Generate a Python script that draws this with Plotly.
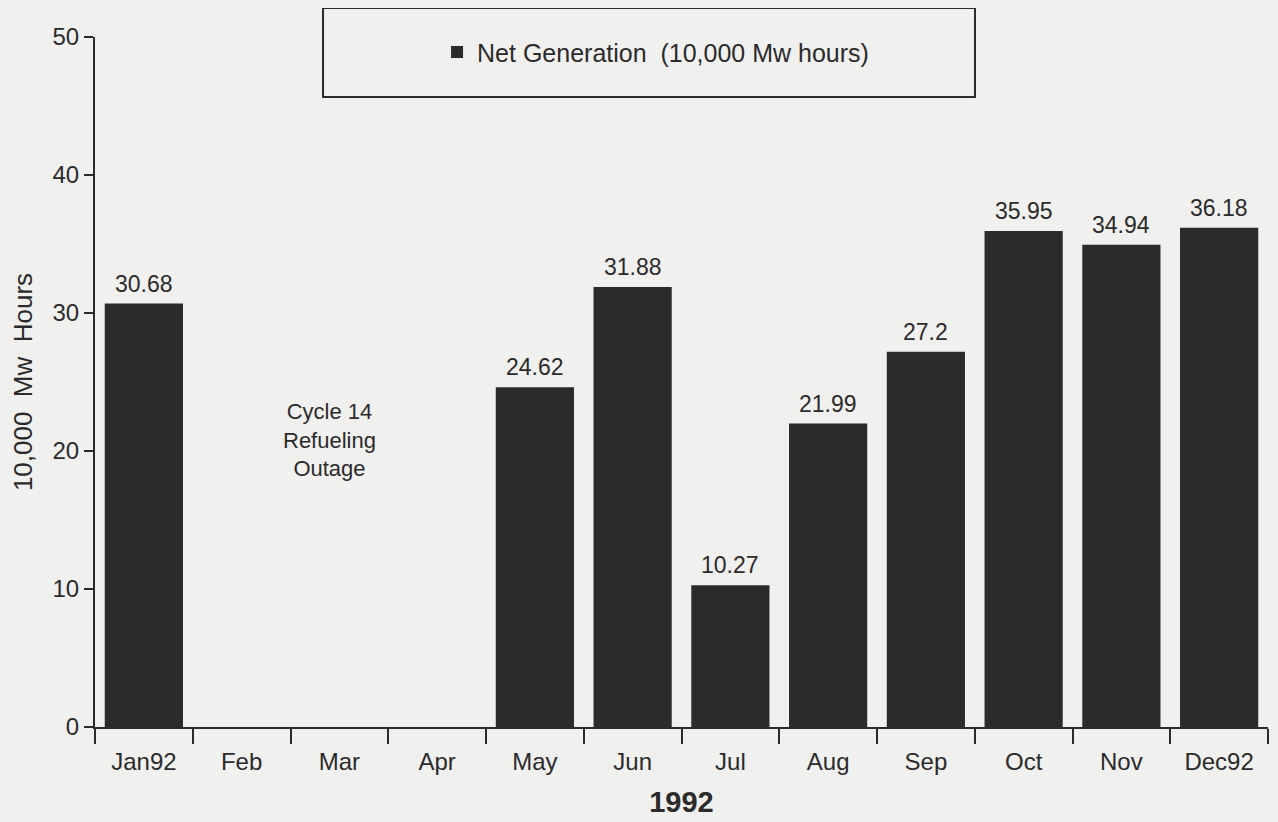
import plotly.graph_objects as go

months = ["Jan92", "Feb", "Mar", "Apr", "May", "Jun", "Jul", "Aug", "Sep", "Oct", "Nov", "Dec92"]
net_generation = [30.68, 0, 0, 0, 24.62, 31.88, 10.27, 21.99, 27.2, 35.95, 34.94, 36.18]
value_labels = ["30.68", "", "", "", "24.62", "31.88", "10.27", "21.99", "27.2", "35.95", "34.94", "36.18"]
y_ticks = [0, 10, 20, 30, 40, 50]

FONT = "Liberation Sans, Arial, sans-serif"
INK = "#2b2b2b"
BG = "#f0f0ee"

fig = go.Figure()
fig.add_trace(go.Bar(
    x=months, y=net_generation,
    name="Net Generation  (10,000 Mw hours)",
    marker=dict(color=INK, line=dict(width=0)),
    hoverinfo="x+y",
))

annotations = []
for m, v, t in zip(months, net_generation, value_labels):
    if t:
        annotations.append(dict(
            x=m, y=v, text=t, showarrow=False, xref="x", yref="y",
            yanchor="bottom", yshift=5,
            font=dict(family=FONT, size=23, color=INK),
        ))
annotations.append(dict(
    x=1.9, y=20.8, xref="x", yref="y", showarrow=False,
    text="Cycle 14<br>Refueling<br>Outage", align="center",
    yanchor="middle",
    font=dict(family=FONT, size=22, color=INK),
))

fig.update_layout(
    width=1270, height=814,
    margin=dict(l=87, r=10, t=29, b=95),
    paper_bgcolor=BG, plot_bgcolor=BG,
    font=dict(family=FONT, size=23, color=INK),
    bargap=0.2,
    showlegend=True,
    legend=dict(
        x=0.2916, y=0.978, xanchor="left", yanchor="middle",
        bgcolor="rgba(0,0,0,0)", borderwidth=0,
        font=dict(family=FONT, size=25, color=INK),
    ),
    shapes=[dict(
        type="rect", xref="paper", yref="paper",
        x0=0.1944, x1=0.7502, y0=0.913, y1=1.042,
        line=dict(color=INK, width=2), fillcolor="rgba(0,0,0,0)",
    )],
    annotations=annotations,
    xaxis=dict(
        type="category", categoryorder="array", categoryarray=months,
        showline=True, linecolor=INK, linewidth=2,
        ticks="outside", tickson="boundaries", ticklen=15, tickwidth=2, tickcolor=INK,
        ticklabelstandoff=12,
        showgrid=False, zeroline=False,
        tickfont=dict(family=FONT, size=24, color=INK),
        title=dict(text="<b>1992</b>", font=dict(family=FONT, size=29, color=INK), standoff=18),
    ),
    yaxis=dict(
        range=[0, 50], tickvals=y_ticks,
        showline=True, linecolor=INK, linewidth=2,
        ticks="outside", ticklen=9, tickwidth=2, tickcolor=INK,
        showgrid=False, zeroline=False,
        tickfont=dict(family=FONT, size=24, color=INK),
        title=dict(text="10,000  Mw  Hours", font=dict(family=FONT, size=26, color=INK), standoff=12),
    ),
)

fig.write_html("out.html", post_script="document.body.style.background='#f0f0ee';")
